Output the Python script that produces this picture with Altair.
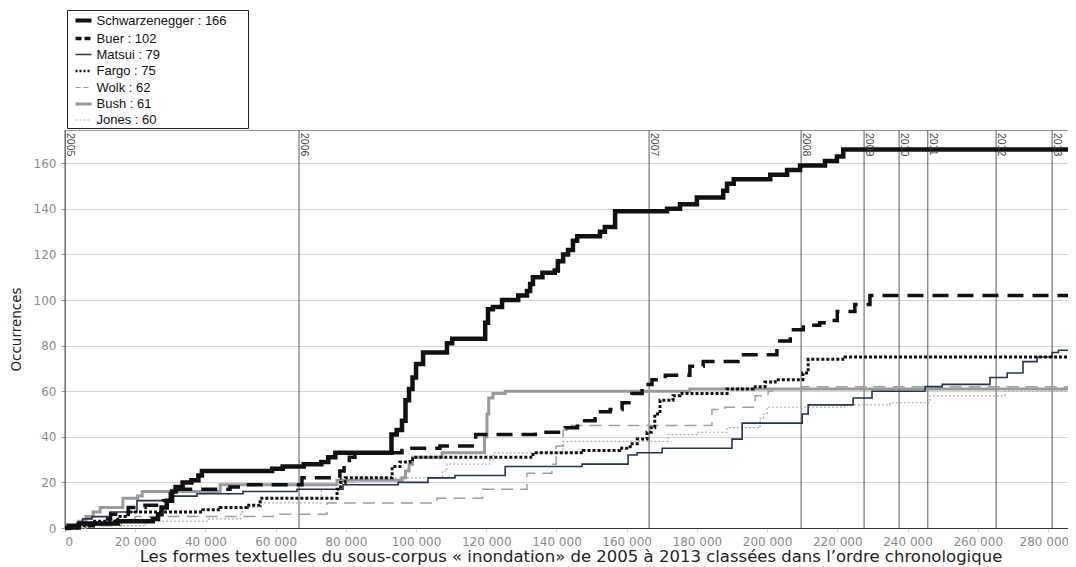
import altair as alt
import pandas as pd

# ---------------- data (x in thousands of textual forms, y = cumulated occurrences)
NAMES = ["Schwarzenegger", "Buer", "Matsui", "Fargo", "Wolk", "Bush", "Jones"]
TOTALS = [166, 102, 79, 75, 62, 61, 60]

S_x = [0, 1, 4, 15, 25, 26.5, 27.5, 29, 30.5, 31.5, 33.5, 36, 38, 39, 59, 62, 68, 73, 75, 77,
       93, 94.5, 96, 97, 98, 99, 100, 102, 108.8, 110.3, 119.7, 120.5, 121.9, 124.5, 129.1,
       131.6, 132.5, 133.3, 136, 139.5, 140.4, 141.9, 143.3, 144.7, 145.9, 152.4, 153.8,
       156.7, 171.5, 175.2, 180, 187.5, 188.6, 190.5, 200.9, 205.7, 209.4, 216.5, 219.9,
       221.7, 288]
S_y = [0, 1, 2, 3, 4, 6, 9, 12, 16, 18, 20, 21, 23, 25, 26, 27, 28, 29, 31, 33,
       41, 43, 47, 56, 61, 66, 72, 77, 81, 83, 90, 96, 97, 100, 102,
       104, 107, 110, 112, 113, 117, 120, 122, 126, 128, 130, 132,
       139, 140, 142, 145, 148, 151, 153, 155, 157, 159, 161, 163,
       166, 166]

B_x = [0, 5, 8, 11, 13, 18, 22.8, 28, 30, 32, 47, 50, 67.5, 78.3, 79.5, 81, 82.6, 96, 98.3,
       106.8, 117, 134, 142.5, 146, 151, 155.3, 158.7, 161.5, 164.4, 167.2, 171, 178, 181.8,
       191.7, 202.8, 206.6, 210.3, 215, 218, 220, 225, 229.3, 288]
B_y = [0, 1, 2, 4, 6, 9, 10, 12, 15, 17, 18, 19, 22, 25, 28, 31, 33, 34, 35,
       36, 41, 42, 44, 47, 51, 52, 55, 59, 63, 65, 67, 71, 73,
       76, 82, 87, 89, 90, 91, 95, 98, 102, 102]

M_x = [0, 3.4, 5, 7.7, 12.8, 20.5, 30.8, 37.6, 50.7, 66.1, 79.2, 94.9, 103.4, 111.1, 125.4,
       147.3, 160.4, 163, 170.1, 190, 192.9, 210, 211.7, 224.5, 229.9, 245, 249.9, 263.5,
       268.4, 272.9, 276.9, 281.2, 283, 288]
M_y = [0, 2, 4, 5, 7, 12, 14, 15, 16, 17, 19, 20, 22, 23, 27,
       28, 32, 33, 35, 39, 46, 50, 54, 57, 60, 62, 63, 66,
       68, 73, 75, 77, 78, 78]

F_x = [0, 4, 8, 15, 18, 39.3, 44.2, 51.9, 55.6, 77.5, 78.5, 79.8, 93.2, 95.4, 98.3, 99, 133.3,
       147.6, 158, 161, 163, 165.8, 167, 168, 169.5, 173.2, 175.2, 188.6, 196, 199.4, 202.3,
       210.2, 211.7, 222.2, 288]
F_y = [0, 1, 3, 5, 7, 8, 9, 10, 13, 17, 20, 22, 27, 29, 30, 31, 33,
       34, 35, 37, 39, 42, 44, 50, 56, 58, 59, 61, 62, 64, 65,
       68, 74, 75, 75]

W_x = [0, 6, 16, 20, 59.3, 74.6, 106, 119, 131.6, 138.7, 139.9, 141.9, 143, 184.3, 188, 196.6,
       200.3, 201.4, 210, 288]
W_y = [0, 1, 3, 5, 6, 11, 13, 17, 24, 28, 36, 43, 45, 52, 53, 58,
       60, 61, 62, 62]

U_x = [0, 2, 4, 6, 8, 10, 16.5, 20.7, 22, 44.2, 77.5, 96, 97, 98, 99, 107.4, 119.5, 120.2,
       120.7, 121.9, 125.4, 178, 288]
U_y = [0, 1, 3, 5, 7, 9, 13, 14, 16, 19, 21, 22, 25, 28, 31, 33, 40, 50,
       57, 59, 60, 61, 61]

J_x = [0, 6, 23, 41, 50, 50.5, 56, 73, 78.5, 82, 107.5, 108.8, 121, 122, 141.9, 171.8, 180,
       188.6, 198, 199, 200, 222, 235, 246.4, 267.8, 288]
J_y = [0, 1, 3, 4, 7, 9, 11, 17, 20, 22, 25, 28, 30, 33, 38, 41, 42,
       44, 48, 50, 53, 54, 55, 58, 60, 60]

YEARS = ["2005", "2006", "2007", "2008", "2009", "2010", "2011", "2012", "2013"]
YEAR_POS = [0, 66667, 166382, 209687, 227635, 237607, 245783, 265242, 281197]

X_TICKS = list(range(0, 280001, 20000))
Y_TICKS = list(range(0, 161, 20))
XMAX = 288000
YMAX = 174.6

# ---------------- styles
COLORS = ["#111111", "#111111", "#1e3656", "#111111", "#9e9e9e", "#9a9a9a", "#ababab"]
WIDTHS = [4.5, 3.5, 1.6, 3, 1.5, 3, 1.2]
DASHES = [None, [16, 9], None, [3, 2], [12, 7], None, [2, 2]]
LEG_DASHES = [[1, 0], [6, 3], [1, 0], [2, 2], [5, 3], [1, 0], [2, 2]]
LEG_WIDTHS = [4, 3.5, 1.5, 2.5, 1.2, 3, 1]

LABELS = [f"{n} : {t}" for n, t in zip(NAMES, TOTALS)]
SERIES_XY = [(S_x, S_y), (B_x, B_y), (M_x, M_y), (F_x, F_y), (W_x, W_y), (U_x, U_y), (J_x, J_y)]

frames = []
for lab, (xs, ys) in zip(LABELS, SERIES_XY):
    frames.append(pd.DataFrame({"x": [v * 1000 for v in xs], "y": ys, "label": lab}))
all_df = pd.concat(frames, ignore_index=True)

XTITLE = "Les formes textuelles du sous-corpus « inondation» de 2005 à 2013 classées dans l’ordre chronologique"

x_enc = alt.X(
    "x:Q",
    scale=alt.Scale(domain=[0, XMAX], nice=False, zero=False),
    title=XTITLE,
    axis=alt.Axis(
        values=X_TICKS,
        labelExpr="replace(format(datum.value, ',d'), ',', ' ')",
        labelOffset={"condition": {"test": "datum.value == 280000", "value": -4}, "value": 0},
        grid=False,
        tickColor="#c5d3e3",
        tickSize=4,
        domainColor="#333333",
        labelColor="#8a8a8a",
        labelFont="DejaVu Sans",
        labelFontSize=12,
        labelPadding=4,
        titleFont="DejaVu Sans",
        titleFontSize=16.5,
        titleFontWeight="normal",
        titleColor="#222222",
        titlePadding=1,
    ),
)
y_enc = alt.Y(
    "y:Q",
    scale=alt.Scale(domain=[0, YMAX], nice=False, zero=True),
    title="Occurrences",
    axis=alt.Axis(
        values=Y_TICKS,
        grid=True,
        gridColor="#d4d4d4",
        tickColor="#999999",
        tickSize=4,
        domainColor="#888888",
        labelColor="#8a8a8a",
        labelFont="DejaVu Sans",
        labelFontSize=12,
        labelPadding=5,
        titleFont="DejaVu Sans",
        titleFontSize=13.5,
        titleFontWeight="normal",
        titleColor="#222222",
        titlePadding=10,
    ),
)

years_df = pd.DataFrame({"year": YEARS, "pos": YEAR_POS})
rules = alt.Chart(years_df).mark_rule(color="#5a5a5a", strokeWidth=1).encode(x="pos:Q")
year_text = alt.Chart(years_df).mark_text(
    angle=90, align="left", baseline="bottom", fontSize=10.5, font="Liberation Sans", color="#444444"
).encode(x="pos:Q", y=alt.value(3), text="year:N")

layers = [rules]
draw_order = [6, 4, 5, 2, 3, 1, 0]
for i in draw_order:
    kw = dict(interpolate="step-after", color=COLORS[i], strokeWidth=WIDTHS[i])
    if DASHES[i] is not None:
        kw["strokeDash"] = DASHES[i]
    layers.append(alt.Chart(frames[i]).mark_line(**kw).encode(x=x_enc, y=y_enc))

PAD = "\u2800\u2800"
leg = alt.Legend(
    orient="none", legendX=2, legendY=-120, fillColor="white", strokeColor="#222222",
    padding=0.5, symbolOffset=6, labelFont="Liberation Sans", labelFontSize=13, labelColor="#111111",
    symbolSize=256, symbolType="stroke", rowPadding=0, labelOffset=3, cornerRadius=0,
    labelExpr="datum.label + '" + PAD + "'",
)
legend_layer = alt.Chart(all_df).mark_line(interpolate="step-after").encode(
    x=x_enc, y=y_enc,
    color=alt.Color("label:N", title=None, scale=alt.Scale(domain=LABELS, range=COLORS), legend=leg),
    strokeDash=alt.StrokeDash("label:N", title=None, scale=alt.Scale(domain=LABELS, range=LEG_DASHES), legend=leg),
    strokeWidth=alt.StrokeWidth("label:N", title=None, scale=alt.Scale(type="ordinal", domain=LABELS, range=LEG_WIDTHS), legend=leg),
).transform_filter("datum.x < 0")
layers.append(legend_layer)
layers.append(year_text)

chart = alt.layer(*layers).properties(
    width=1011, height=398,
    padding={"left": 57, "top": 122, "right": -8, "bottom": 42},
    autosize=alt.AutoSizeParams(type="none"),
).configure_view(stroke="#999999", strokeWidth=1)

chart.save("out.html", embed_options={"renderer": "svg", "actions": False})
